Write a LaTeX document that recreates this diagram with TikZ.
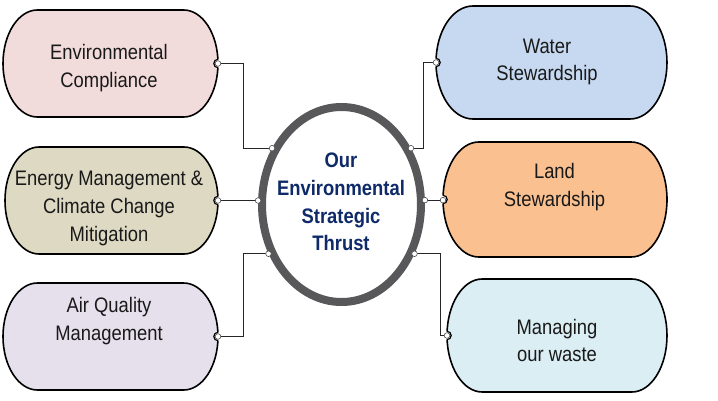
\documentclass[tikz,border=0pt]{standalone}
\usepackage{fontspec}
\setmainfont{Liberation Sans}[FakeStretch=0.876]
\usetikzlibrary{shapes.geometric,calc}
\definecolor{cpink}{HTML}{F2DCDB}
\definecolor{ctan}{HTML}{DDD9C3}
\definecolor{clav}{HTML}{E5E0EC}
\definecolor{cblue}{HTML}{C6D9F1}
\definecolor{corange}{HTML}{FAC090}
\definecolor{clblue}{HTML}{DBEEF4}
\definecolor{ringgray}{HTML}{58585B}
\definecolor{navy}{HTML}{0F2A68}
\tikzset{
  boxline/.style={draw=black, line width=1.6pt},
  boxtext/.style={font=\fontsize{21}{27.8}\selectfont, align=center, inner sep=0pt, text=black!90},
  centertext/.style={font=\fontsize{21}{27.8}\selectfont\bfseries, align=center, inner sep=0pt, text=navy},
  conn/.style={draw=black!85, line width=0.9pt},
  dotc/.style={draw=black!70, fill=white, line width=0.6pt},
}
\newcommand\termbox[6]{%
  \node[minimum width=#4pt, minimum height=#5pt, inner sep=0pt, outer sep=0pt] (#1) at (#2,#3) {};
  \pgfmathsetmacro\trx{0.16*#4}\pgfmathsetmacro\try{#5/2}%
  \draw[boxline, fill=#6] ($(#1.north west)+(\trx,0)$) -- ($(#1.north east)-(\trx,0)$)
    arc[start angle=90, end angle=-90, x radius=\trx pt, y radius=\try pt]
    -- ($(#1.south west)+(\trx,0)$)
    arc[start angle=270, end angle=90, x radius=\trx pt, y radius=\try pt] -- cycle;
}
\newcommand\notchat[3]{%
  \fill[white] (#1) circle[radius=4.2pt];
  \draw[draw=black, line width=1.2pt] ($(#1)+(#2:4.2pt)$) arc[start angle=#2, end angle=#3, radius=4.2pt];
}
\begin{document}
\begin{tikzpicture}[x=1pt,y=1pt]
\useasboundingbox[fill=white] (0,0) rectangle (718,400);
% boxes
\termbox{b1}{110.5}{336.5}{215}{107}{cpink}
\termbox{b2}{111.5}{199.5}{213}{107}{ctan}
\termbox{b3}{110.5}{63.5}{215}{107}{clav}
\termbox{bw}{551.5}{337.5}{231}{113}{cblue}
\termbox{bl}{555}{200.5}{224}{115}{corange}
\termbox{bm}{557}{64.5}{220}{113}{clblue}
% central ellipse
\node[ellipse, draw=ringgray, fill=white, line width=8pt, minimum width=159pt, minimum height=195pt, inner sep=0pt] (c) at (341.5,195.5) {};
% notches
\notchat{b1.east}{90}{270}
\notchat{b2.east}{90}{270}
\notchat{b3.east}{90}{270}
\notchat{bw.west}{90}{-90}
\notchat{bl.west}{90}{-90}
\notchat{bm.west}{90}{-90}
% connectors
\draw[conn] (b1.east) -- ++(25,0) |- (c.141);
\draw[conn] (b2.east) -- (b2.east -| c.177);
\draw[conn] (b3.east) -- ++(25,0) |- (c.214);
\draw[conn] (c.39) -- ++(12,0) |- (bw.west);
\draw[conn] (c.3) -- (c.3 -| bl.west);
\draw[conn] (c.-34) -- ++(26,0) |- (bm.west);
% connection dots
\foreach \p in {b1.east, b2.east, b3.east, bw.west, bm.west, c.141, c.214, c.39, c.-34, c.3}
  \draw[dotc] (\p) circle[radius=2.8pt];
\draw[dotc] (b2.east -| c.177) circle[radius=2.8pt];
\draw[dotc] (c.3 -| bl.west) circle[radius=2.8pt];
% texts
\node[boxtext] (t1) at (109,332) {Environmental\\Compliance};
\node[boxtext] (t2) at (109,191.5) {Energy Management \&\\Climate Change\\Mitigation};
\node[boxtext] (t3) at (109,79) {Air Quality\\Management};
\node[boxtext] (tw) at (547,338) {Water\\Stewardship};
\node[boxtext] (tl) at (554.5,213) {Land\\Stewardship};
\node[boxtext] (tm) at (557,59.5) {Managing\\our waste};
\node[centertext] (ct) at (341,198) {Our\\Environmental\\Strategic\\Thrust};
\end{tikzpicture}
\end{document}
